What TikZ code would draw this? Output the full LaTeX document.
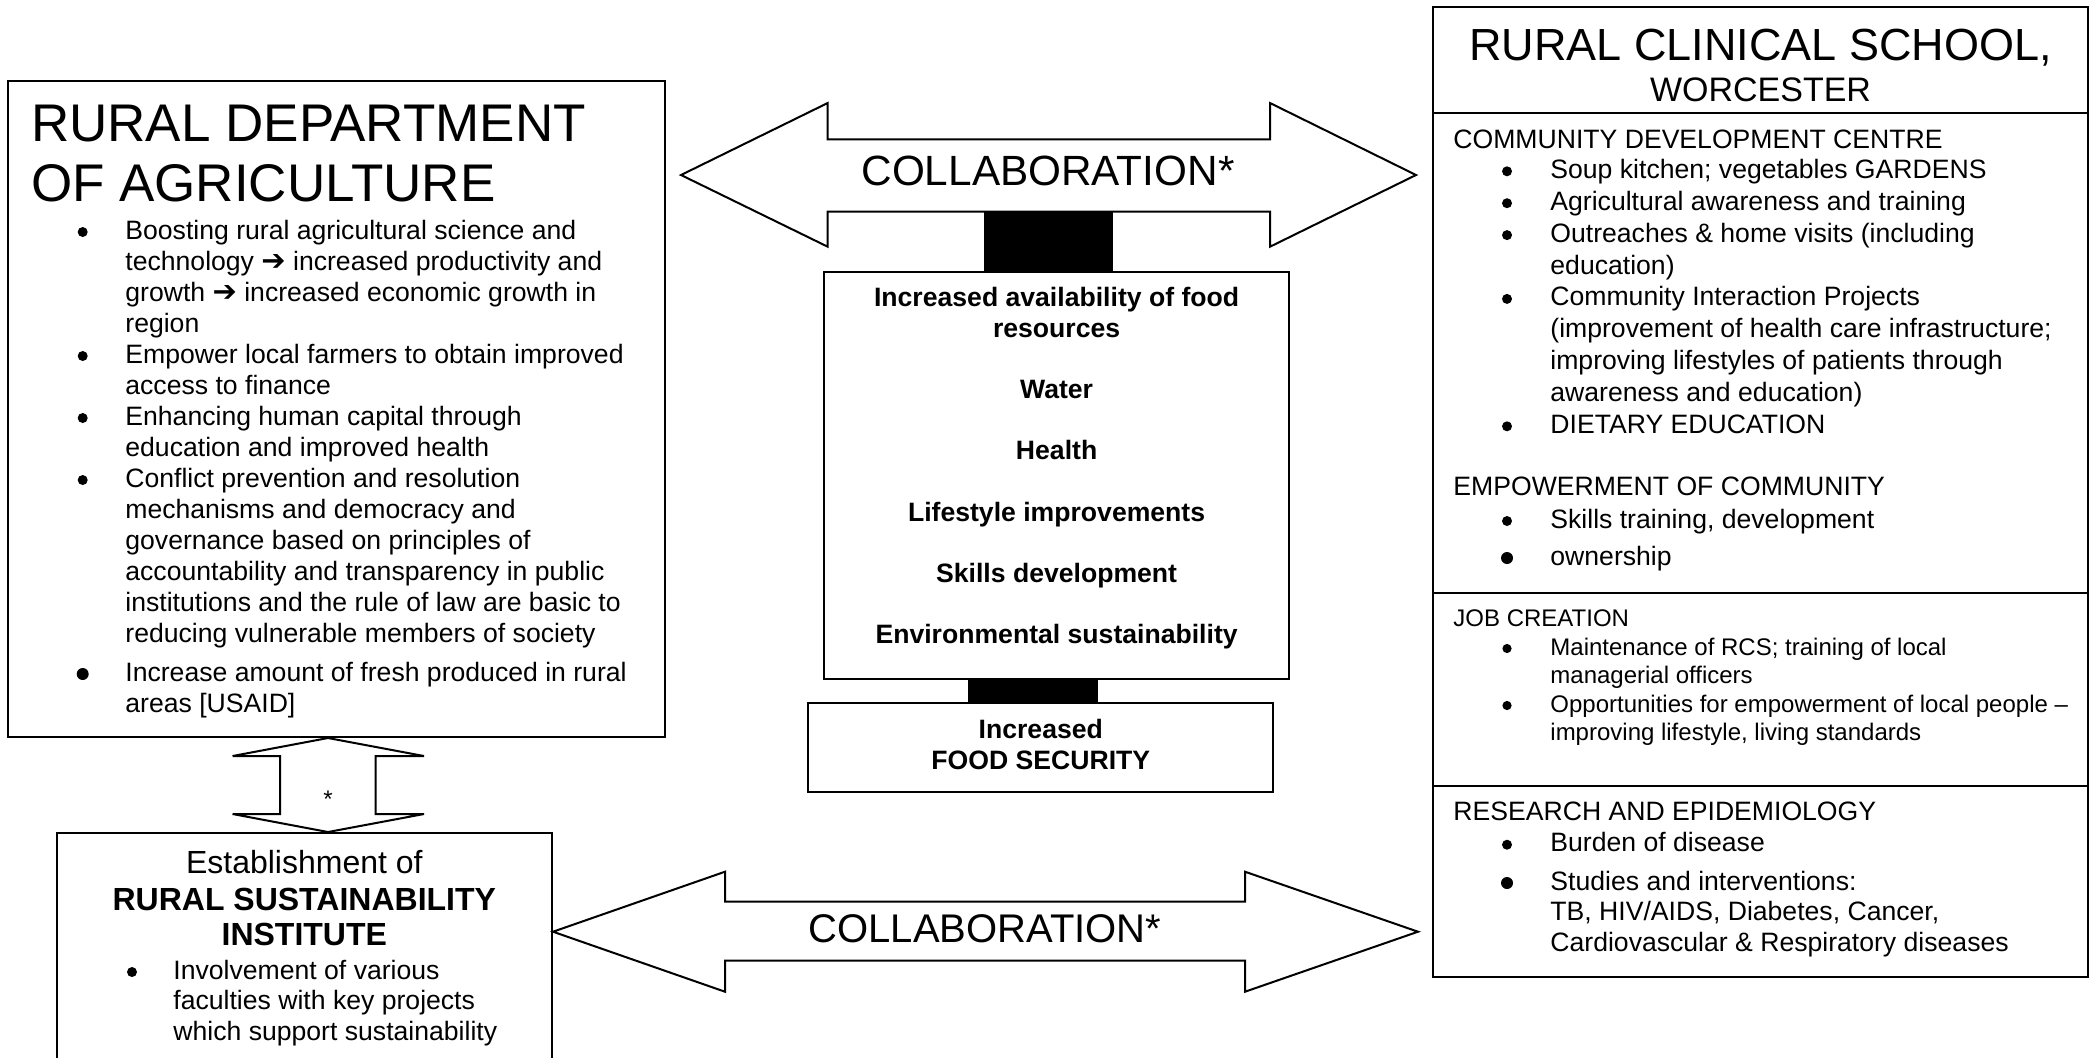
\documentclass[tikz,border=0pt]{standalone}
\usepackage{fontspec}
\setmainfont{Liberation Sans}
\newfontfamily\dejavu{DejaVu Sans}
\usetikzlibrary{fit}
\newcommand\rarr{{\dejavu\bfseries\fontsize{14.5pt}{15.5pt}\selectfont ➔}}
\newcommand\bodyfont{\fontsize{13.3pt}{15.5pt}\selectfont}
\newcommand\smallbody{\fontsize{12pt}{14pt}\selectfont}

\begin{document}
\begin{tikzpicture}[x=0.5pt,y=-0.5pt,
  box/.style={draw, line width=1pt, inner sep=0pt},
  blk/.style={fill=black, inner sep=0pt},
  ln/.style={anchor=base west, inner sep=0pt, font=\bodyfont},
  lns/.style={anchor=base west, inner sep=0pt, font=\smallbody},
  lc/.style={anchor=base, inner sep=0pt, font=\bodyfont},
  lcb/.style={anchor=base, inner sep=0pt, font=\bodyfont\bfseries},
  dot/.style={circle, fill=black, inner sep=0pt, minimum size=5pt},
  bigdot/.style={dot, minimum size=6pt},
  smalldot/.style={dot, minimum size=4.6pt},
  blockarrow/.style={draw, line width=1pt, fill=white, line join=miter},
  divider/.style={line width=1pt}]
\useasboundingbox (0,0) rectangle (2096,1057);

% ---------- block arrow: top collaboration ----------
\draw[blockarrow] (681,175) -- (827.7,103) -- (827.7,139.3) -- (1270,139.3)
  -- (1270,103) -- (1416,175) -- (1270,246.7) -- (1270,211.7)
  -- (827.7,211.7) -- (827.7,246.7) -- cycle;
\node[lc, font=\fontsize{21.15pt}{24pt}\selectfont] (collabtop) at (1048,185) {COLLABORATION*};

% ---------- central column ----------
\node[blk, fit={(984.3,211.7) (1113.3,271.7)}] (k1) {};
\node[box, fit={(824.3,271.7) (1289,679.3)}] (cbox) {};
\node[blk, fit={(968.3,679.3) (1097.7,703.3)}] (k2) {};
\node[box, fit={(808.3,703.3) (1273.3,791.7)}] (fbox) {};

\node[lcb] (c1) at (1056.6,306.7) {Increased availability of food};
\node[lcb] (c2) at (1056.6,337.3) {resources};
\node[lcb] (c3) at (1056.6,398.5) {Water};
\node[lcb] (c4) at (1056.6,459.7) {Health};
\node[lcb] (c5) at (1056.6,521) {Lifestyle improvements};
\node[lcb] (c6) at (1056.6,582.3) {Skills development};
\node[lcb] (c7) at (1056.6,643.6) {Environmental sustainability};
\node[lcb] (f1) at (1040.8,738.3) {Increased};
\node[lcb] (f2) at (1040.8,769) {FOOD SECURITY};

% ---------- left box: department of agriculture ----------
\node[box, fit={(8.3,80.7) (665,737)}] (lbox) {};
\node[ln, font=\fontsize{26.5pt}{30pt}\selectfont] (lt1) at (30.7,141.7) {RURAL DEPARTMENT};
\node[ln, font=\fontsize{26.5pt}{30pt}\selectfont] (lt2) at (30.7,201.7) {OF AGRICULTURE};

\node[dot] (lb1) at (82.7,232) {};
\node[dot] (lb2) at (82.7,356) {};
\node[dot] (lb3) at (82.7,418) {};
\node[dot] (lb4) at (82.7,480) {};
\node[bigdot] (lb5) at (82.7,674) {};

\node[ln] (l1) at (125,239) {Boosting rural agricultural science and};
\node[ln] (l2) at (125,270) {technology \rarr\ increased productivity and};
\node[ln] (l3) at (125,301) {growth \rarr\ increased economic growth in};
\node[ln] (l4) at (125,332) {region};
\node[ln] (l5) at (125,363) {Empower local farmers to obtain improved};
\node[ln] (l6) at (125,394) {access to finance};
\node[ln] (l7) at (125,425) {Enhancing human capital through};
\node[ln] (l8) at (125,456) {education and improved health};
\node[ln] (l9) at (125,487) {Conflict prevention and resolution};
\node[ln] (l10) at (125,518) {mechanisms and democracy and};
\node[ln] (l11) at (125,549) {governance based on principles of};
\node[ln] (l12) at (125,580) {accountability and transparency in public};
\node[ln] (l13) at (125,611) {institutions and the rule of law are basic to};
\node[ln] (l14) at (125,642) {reducing vulnerable members of society};
\node[ln] (l15) at (125,681) {Increase amount of fresh produced in rural};
\node[ln] (l16) at (125,712) {areas [USAID]};

% ---------- bottom-left box: sustainability institute ----------
\node[box, fit={(56.5,833) (552,1066)}] (ibox) {};
\node[lc, font=\fontsize{16pt}{18pt}\selectfont] (i1) at (304.3,873.3) {Establishment of};
\node[lc, font=\fontsize{16pt}{18pt}\selectfont\bfseries] (i2) at (304.3,910) {RURAL SUSTAINABILITY};
\node[lc, font=\fontsize{16pt}{18pt}\selectfont\bfseries] (i3) at (304.3,945) {INSTITUTE};
\node[dot] (ib1) at (132,972) {};
\node[ln] (i4) at (173,979) {Involvement of various};
\node[ln] (i5) at (173,1009.5) {faculties with key projects};
\node[ln] (i6) at (173,1040) {which support sustainability};

% ---------- vertical block arrow between the two left boxes ----------
\coordinate (vx) at (328,0);
\coordinate (vtop) at (vx |- lbox.south);
\coordinate (vbot) at (vx |- ibox.north);
\draw[blockarrow] (vtop) -- (424,756) -- (375.7,756) -- (375.7,814) -- (424,814)
  -- (vbot) -- (232.6,814) -- (280,814) -- (280,756) -- (232.6,756) -- cycle;
\node[inner sep=0pt, font=\smallbody] (vstar) at (328,799) {*};

% ---------- block arrow: bottom collaboration ----------
\coordinate (by) at (0,931.7);
\coordinate (btip) at (ibox.east |- by);
\draw[blockarrow] (btip) -- (725,871.7) -- (725,901.7) -- (1245,901.7)
  -- (1245,871.7) -- (1418,931.7) -- (1245,991.7) -- (1245,960.7)
  -- (725,960.7) -- (725,991.7) -- cycle;
\node[lc, font=\fontsize{20pt}{23pt}\selectfont] (collabbot) at (985,942.7) {COLLABORATION*};

% ---------- right box: rural clinical school ----------
\node[box, fit={(1433,6.7) (2088,977)}] (rbox) {};
\coordinate (d1) at (0,113);
\coordinate (d2) at (0,593);
\coordinate (d3) at (0,786);
\draw[divider] (rbox.west |- d1) -- (rbox.east |- d1);
\draw[divider] (rbox.west |- d2) -- (rbox.east |- d2);
\draw[divider] (rbox.west |- d3) -- (rbox.east |- d3);

\node[lc, font=\fontsize{22.5pt}{26pt}\selectfont] (rt1) at (1760.5,60) {RURAL CLINICAL SCHOOL,};
\node[lc, font=\fontsize{17pt}{20pt}\selectfont] (rt2) at (1760.5,101.7) {WORCESTER};

\node[ln] (rs1) at (1453,148.3) {COMMUNITY DEVELOPMENT CENTRE};
\node[dot] (rb1) at (1507,171.3) {};
\node[dot] (rb2) at (1507,203.2) {};
\node[dot] (rb3) at (1507,235.1) {};
\node[dot] (rb4) at (1507,298.9) {};
\node[dot] (rb5) at (1507,426.3) {};
\node[ln] (r1) at (1550,178.3) {Soup kitchen; vegetables GARDENS};
\node[ln] (r2) at (1550,210.2) {Agricultural awareness and training};
\node[ln] (r3) at (1550,242.1) {Outreaches \& home visits (including};
\node[ln] (r4) at (1550,274) {education)};
\node[ln] (r5) at (1550,305.9) {Community Interaction Projects};
\node[ln] (r6) at (1550,337.8) {(improvement of health care infrastructure;};
\node[ln] (r7) at (1550,369.7) {improving lifestyles of patients through};
\node[ln] (r8) at (1550,401.6) {awareness and education)};
\node[ln] (r9) at (1550,433.3) {DIETARY EDUCATION};

\node[ln] (rs2) at (1453,495) {EMPOWERMENT OF COMMUNITY};
\node[dot] (rb6) at (1507,521) {};
\node[bigdot] (rb7) at (1507,558) {};
\node[ln] (r10) at (1550,528) {Skills training, development};
\node[ln] (r11) at (1550,565) {ownership};

\node[lns] (rs3) at (1453,626) {JOB CREATION};
\node[smalldot] (rb8) at (1507,648.5) {};
\node[smalldot] (rb9) at (1507,705.5) {};
\node[lns] (r12) at (1550,655) {Maintenance of RCS; training of local};
\node[lns] (r13) at (1550,683) {managerial officers};
\node[lns] (r14) at (1550,712) {Opportunities for empowerment of local people –};
\node[lns] (r15) at (1550,740) {improving lifestyle, living standards};

\node[ln] (rs4) at (1453,820.7) {RESEARCH AND EPIDEMIOLOGY};
\node[dot] (rb10) at (1507,844.7) {};
\node[bigdot] (rb11) at (1507,883) {};
\node[ln] (r16) at (1550,851.7) {Burden of disease};
\node[ln] (r17) at (1550,890) {Studies and interventions:};
\node[ln] (r18) at (1550,920.5) {TB, HIV/AIDS, Diabetes, Cancer,};
\node[ln] (r19) at (1550,951) {Cardiovascular \& Respiratory diseases};
\end{tikzpicture}
\end{document}
